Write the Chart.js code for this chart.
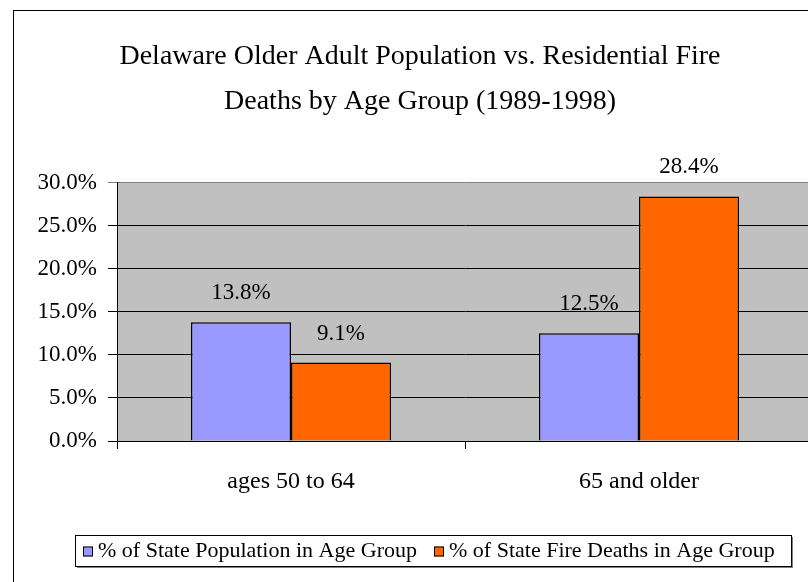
<!DOCTYPE html>
<html>
<head>
<meta charset="utf-8">
<script src="https://cdn.jsdelivr.net/npm/chart.js@4/dist/chart.umd.min.js"></script>
<style>
  html, body { margin: 0; padding: 0; background: #fff; overflow: hidden; }
  #wrap { width: 840px; height: 582px; }
</style>
</head>
<body>
<div id="wrap"><canvas id="myChart" width="840" height="582"></canvas></div>
<script>
const categories = ['ages 50 to 64', '65 and older'];
const popShare = [13.8, 12.5];
const fireDeathShare = [9.1, 28.4];
const seriesNames = ['% of State Population in Age Group', '% of State Fire Deaths in Age Group'];
const seriesColors = ['#9999FF', '#FF6600'];
const titleLines = ['Delaware Older Adult Population vs. Residential Fire', 'Deaths by Age Group (1989-1998)'];

const FONT = '"Liberation Serif", "Times New Roman", serif';

// gray plot area + outer frame
const backdrop = {
  id: 'backdrop',
  beforeDraw(chart) {
    const { ctx, chartArea: a } = chart;
    ctx.save();
    ctx.fillStyle = '#C0C0C0';
    ctx.fillRect(a.left, a.top, a.right - a.left, a.bottom - a.top);
    ctx.strokeStyle = '#000';
    ctx.lineWidth = 1;
    ctx.strokeRect(13.5, 10.5, 814, 620);
    ctx.restore();
  }
};

// value labels above the bars
const valueLabels = {
  id: 'valueLabels',
  afterDatasetsDraw(chart) {
    const { ctx } = chart;
    ctx.save();
    ctx.font = '23px ' + FONT;
    ctx.fillStyle = '#000';
    ctx.textAlign = 'center';
    ctx.textBaseline = 'middle';
    chart.data.datasets.forEach((ds, i) => {
      chart.getDatasetMeta(i).data.forEach((bar, j) => {
        ctx.fillText(ds.data[j].toFixed(1) + '%', bar.x, bar.y - 29);
      });
    });
    ctx.restore();
  }
};

// boxed legend like the excel one
const boxLegend = {
  id: 'boxLegend',
  afterDraw(chart) {
    const { ctx } = chart;
    const x0 = 75, y0 = 535, w = 716, h = 31;
    ctx.save();
    ctx.fillStyle = '#808080';
    ctx.fillRect(x0 + 2, y0 + h, w, 2);
    ctx.fillRect(x0 + w, y0 + 2, 2, h);
    ctx.fillStyle = '#fff';
    ctx.fillRect(x0, y0, w, h);
    ctx.strokeStyle = '#000';
    ctx.lineWidth = 1;
    ctx.strokeRect(x0 + 0.5, y0 + 0.5, w, h);
    ctx.font = '22px ' + FONT;
    ctx.textBaseline = 'middle';
    const cy = y0 + h / 2 + 1;
    const starts = [83, 434];
    chart.data.datasets.forEach((ds, i) => {
      const sx = starts[i];
      ctx.fillStyle = ds.backgroundColor;
      ctx.fillRect(sx, cy - 5, 10, 10);
      ctx.strokeStyle = '#000';
      ctx.strokeRect(sx + 0.5, cy - 4.5, 9, 9);
      ctx.fillStyle = '#000';
      ctx.textAlign = 'left';
      ctx.fillText(ds.label, sx + 15, cy);
    });
    ctx.restore();
  }
};

const data = {
  labels: categories,
  datasets: [
    { label: seriesNames[0], data: popShare, backgroundColor: seriesColors[0] },
    { label: seriesNames[1], data: fireDeathShare, backgroundColor: seriesColors[1] }
  ]
};

const config = {
  type: 'bar',
  data: data,
  options: {
    responsive: false,
    animation: false,
    layout: { padding: { left: 27, right: 27, top: 0, bottom: 0 } },
    datasets: {
      bar: {
        categoryPercentage: 0.575,
        barPercentage: 1,
        borderColor: '#000',
        borderWidth: 1.5
      }
    },
    scales: {
      x: {
        afterFit(scale) { scale.height = 141; },
        border: { color: '#000', width: 1 },
        grid: { display: true, drawOnChartArea: false, drawTicks: true, tickLength: 8, color: '#000', offset: true },
        ticks: { color: '#000', font: { family: FONT, size: 24 }, padding: 18 }
      },
      y: {
        min: 0,
        max: 30,
        afterFit(scale) { scale.width = 90; },
        border: { color: '#000', width: 1 },
        grid: {
          color: ctx => (ctx.tick && ctx.tick.value === 30 ? '#808080' : '#000'),
          tickLength: 9,
          lineWidth: 1
        },
        ticks: {
          stepSize: 5,
          color: '#000',
          padding: 11,
          font: { family: FONT, size: 23 },
          callback: v => v.toFixed(1) + '%'
        }
      }
    },
    plugins: {
      legend: { display: false },
      tooltip: { enabled: false },
      title: {
        display: true,
        text: titleLines,
        color: '#000',
        font: { family: FONT, size: 28, weight: 'normal', lineHeight: 1.6 },
        padding: { top: 34, bottom: 59 }
      }
    }
  },
  plugins: [backdrop, valueLabels, boxLegend]
};

new Chart(document.getElementById('myChart'), config);
</script>
</body>
</html>
